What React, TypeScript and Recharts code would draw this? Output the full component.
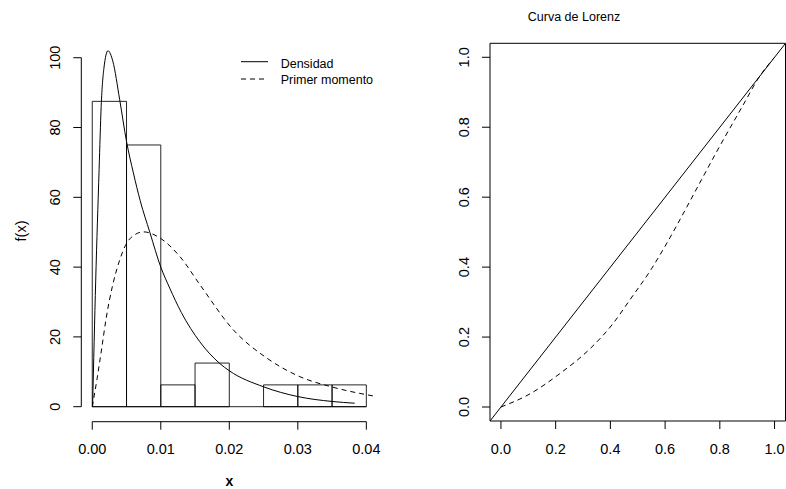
import React from 'react';
import { ComposedChart, Line, XAxis, YAxis, ReferenceArea, ReferenceLine } from 'recharts';

// ---------- data ----------
const binStarts = [0, 0.005, 0.01, 0.015, 0.02, 0.025, 0.03, 0.035];
const binWidth = 0.005;
const binHeights = [87.5, 75, 6.25, 12.5, 0, 6.25, 6.25, 6.25];

const densX = [0.00005, 0.0005, 0.001, 0.0013, 0.0017, 0.0023, 0.003, 0.004, 0.005, 0.006, 0.007, 0.0084, 0.01, 0.0113, 0.013, 0.0157, 0.0186, 0.02, 0.025, 0.03, 0.035, 0.0383];
const densY = [0, 36, 68, 86, 97, 102, 99, 88, 76, 67, 59, 50, 40, 34, 27, 18.6, 12.4, 10.3, 5.7, 2.9, 1.5, 1.0];

const momX = [0, 0.0007, 0.0014, 0.002, 0.003, 0.004, 0.005, 0.006, 0.0075, 0.009, 0.01, 0.0128, 0.0157, 0.0206, 0.0255, 0.0303, 0.0349, 0.0415];
const momY = [0, 8, 17, 25, 35, 42, 46.8, 49, 50.1, 49.3, 48.2, 43, 35, 22, 13.9, 8.6, 5.7, 2.9];

const lorX = [0, 0.107, 0.216, 0.326, 0.41, 0.47, 0.55, 0.6, 0.678, 0.733, 0.787, 0.884, 0.945, 1];
const lorY = [0, 0.038, 0.096, 0.167, 0.239, 0.305, 0.395, 0.46, 0.57, 0.65, 0.728, 0.862, 0.945, 1];

const equalX = [-0.04, 1.04];
const equalY = [-0.04, 1.04];

const leftXTicks = [0, 0.01, 0.02, 0.03, 0.04];
const leftYTicks = [0, 20, 40, 60, 80, 100];
const rightTicks = [0, 0.2, 0.4, 0.6, 0.8, 1.0];

const leftXDomain = [-0.0016, 0.0416];
const leftYDomain = [-4.3, 106.6];
const rightDomain = [-0.04, 1.04];

const legendLabels = ['Densidad', 'Primer momento'];
const titleText = 'Curva de Lorenz';
const xLabel = 'x';
const yLabel = 'f(x)';

// ---------- build ----------
const zip = (xs: number[], ys: number[]) => xs.map((x, i) => ({ x, y: ys[i] }));
const densData = zip(densX, densY);
const momData = zip(momX, momY);
const lorData = zip(lorX, lorY);
const equalData = zip(equalX, equalY);

const FONT = '"Liberation Sans", Arial, Helvetica, sans-serif';
const INK = '#000';
const DASH = '5 4';
const TICK_FS = 14.5;

const makeXTick = (fmt: (v: number) => string) => (props: any) => {
  const { x, y, payload } = props;
  return (
    <text x={x} y={y + 22.5} textAnchor="middle" fontSize={TICK_FS} fontFamily={FONT} fill={INK}>
      {fmt(payload.value)}
    </text>
  );
};

const makeYTick = (fmt: (v: number) => string) => (props: any) => {
  const { x, y, payload } = props;
  const bx = x - 11;
  return (
    <text x={bx} y={y} transform={`rotate(-90, ${bx}, ${y})`} textAnchor="middle" fontSize={TICK_FS} fontFamily={FONT} fill={INK}>
      {fmt(payload.value)}
    </text>
  );
};

const LeftChart = () => (
  <ComposedChart width={393} height={489} margin={{ top: 34.7, right: 15.7, bottom: 27.3, left: 41.3 }}>
    <XAxis
      type="number"
      dataKey="x"
      domain={leftXDomain}
      ticks={leftXTicks}
      allowDataOverflow
      axisLine={false}
      tickLine={{ stroke: INK }}
      tickSize={8}
      height={40}
      tick={makeXTick((v) => v.toFixed(2))}
    />
    <YAxis
      type="number"
      dataKey="y"
      domain={leftYDomain}
      ticks={leftYTicks}
      allowDataOverflow
      axisLine={false}
      tickLine={{ stroke: INK }}
      tickSize={8}
      width={40}
      tick={makeYTick((v) => String(v))}
    />
    {binStarts.map((b, i) => (
      <ReferenceArea
        key={i}
        x1={b}
        x2={b + binWidth}
        y1={0}
        y2={binHeights[i]}
        fill="none"
        fillOpacity={0}
        stroke={INK}
        strokeWidth={1}
        strokeOpacity={0.85}
      />
    ))}
    <ReferenceLine segment={[{ x: binStarts[0], y: 0 }, { x: binStarts[binStarts.length - 1] + binWidth, y: 0 }]} stroke={INK} strokeOpacity={0.85} />
    <ReferenceLine segment={[{ x: leftXTicks[0], y: leftYDomain[0] }, { x: leftXTicks[leftXTicks.length - 1], y: leftYDomain[0] }]} stroke={INK} />
    <ReferenceLine segment={[{ x: leftXDomain[0], y: leftYTicks[0] }, { x: leftXDomain[0], y: leftYTicks[leftYTicks.length - 1] }]} stroke={INK} />
    <Line data={densData} dataKey="y" type="monotone" dot={false} stroke={INK} strokeWidth={1} isAnimationActive={false} />
    <Line data={momData} dataKey="y" type="monotone" dot={false} stroke={INK} strokeWidth={1} strokeDasharray={DASH} isAnimationActive={false} />
  </ComposedChart>
);

const RightChart = () => (
  <ComposedChart width={393} height={489} margin={{ top: 43.3, right: 0.5, bottom: 28, left: 57 }}>
    <XAxis
      type="number"
      dataKey="x"
      domain={rightDomain}
      ticks={rightTicks}
      allowDataOverflow
      axisLine={false}
      tickLine={{ stroke: INK }}
      tickSize={8}
      height={40}
      tick={makeXTick((v) => v.toFixed(1))}
    />
    <YAxis
      type="number"
      dataKey="y"
      domain={rightDomain}
      ticks={rightTicks}
      allowDataOverflow
      axisLine={false}
      tickLine={{ stroke: INK }}
      tickSize={8}
      width={40}
      tick={makeYTick((v) => v.toFixed(1))}
    />
    <ReferenceArea x1={rightDomain[0]} x2={rightDomain[1]} y1={rightDomain[0]} y2={rightDomain[1]} fill="none" fillOpacity={0} stroke={INK} strokeWidth={1} />
    <Line data={equalData} dataKey="y" type="linear" dot={false} stroke={INK} strokeWidth={1} isAnimationActive={false} />
    <Line data={lorData} dataKey="y" type="monotone" dot={false} stroke={INK} strokeWidth={1} strokeDasharray={DASH} isAnimationActive={false} />
  </ComposedChart>
);

export default function App() {
  return (
    <div style={{ position: 'absolute', left: 0, top: 0, width: 786, height: 489, background: '#fff', overflow: 'hidden' }}>
      <div style={{ position: 'absolute', left: 0, top: 0 }}>
        <LeftChart />
      </div>
      <div style={{ position: 'absolute', left: 393, top: 0 }}>
        <RightChart />
      </div>
      <svg width={786} height={489} style={{ position: 'absolute', left: 0, top: 0, pointerEvents: 'none' }}>
        <text x={25.5} y={231} transform="rotate(-90, 25.5, 231)" textAnchor="middle" fontSize={14.5} fontFamily={FONT} fill={INK}>{yLabel}</text>
        <text x={229.3} y={486} textAnchor="middle" fontSize={14} fontWeight="bold" fontFamily={FONT} fill={INK}>{xLabel}</text>
        <text x={574} y={20.5} textAnchor="middle" fontSize={12.5} fontFamily={FONT} fill={INK}>{titleText}</text>
        <line x1={241} x2={268} y1={61.7} y2={61.7} stroke={INK} strokeWidth={1} />
        <text x={280.7} y={67.6} fontSize={12.5} fontFamily={FONT} fill={INK}>{legendLabels[0]}</text>
        <line x1={241} x2={268} y1={79} y2={79} stroke={INK} strokeWidth={1} strokeDasharray={DASH} />
        <text x={280.7} y={84} fontSize={12.5} fontFamily={FONT} fill={INK}>{legendLabels[1]}</text>
      </svg>
    </div>
  );
}
